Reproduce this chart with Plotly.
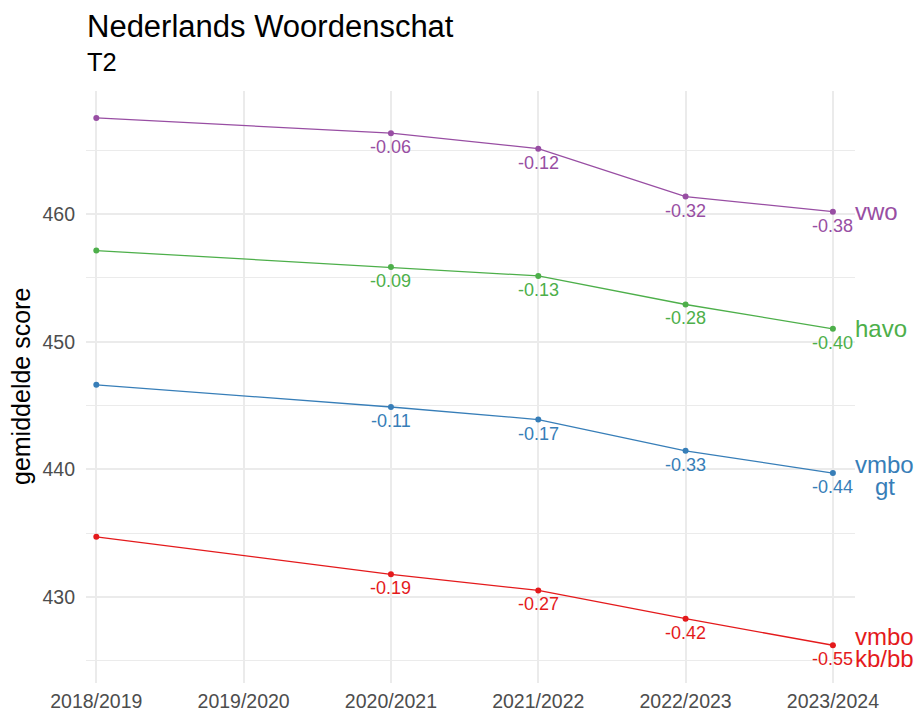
import plotly.graph_objects as go

# schooljaren en gemiddelde scores per schooltype
jaren = ['2018/2019', '2019/2020', '2020/2021', '2021/2022', '2022/2023', '2023/2024']
meetjaren = ['2018/2019', '2020/2021', '2021/2022', '2022/2023', '2023/2024']

niveaus = ['vwo', 'havo', 'vmbo gt', 'vmbo kb/bb']
eind_labels = [['vwo'], ['havo'], ['vmbo', 'gt'], ['vmbo', 'kb/bb']]
kleuren = ['#984EA3', '#4DAF4A', '#377EB8', '#E41A1C']

score_vwo = [467.55, 466.35, 465.14, 461.38, 460.2]
score_havo = [457.15, 455.85, 455.16, 452.92, 451.01]
score_gt = [446.62, 444.88, 443.9, 441.45, 439.7]
score_kb = [434.7, 431.76, 430.5, 428.28, 426.2]

# effectgrootte t.o.v. 2018/2019
effect_vwo = ['', '-0.06', '-0.12', '-0.32', '-0.38']
effect_havo = ['', '-0.09', '-0.13', '-0.28', '-0.40']
effect_gt = ['', '-0.11', '-0.17', '-0.33', '-0.44']
effect_kb = ['', '-0.19', '-0.27', '-0.42', '-0.55']

scores = [score_vwo, score_havo, score_gt, score_kb]
effecten = [effect_vwo, effect_havo, effect_gt, effect_kb]

FONT = 'Liberation Sans, Arial, sans-serif'

fig = go.Figure()

for naam, kleur, y, eff in zip(niveaus, kleuren, scores, effecten):
    fig.add_trace(go.Scatter(
        x=meetjaren, y=y, mode='lines+markers', name=naam,
        line=dict(color=kleur, width=1.3),
        marker=dict(color=kleur, size=6),
        showlegend=False,
    ))
    for xj, yv, t in zip(meetjaren, y, eff):
        if t:
            fig.add_annotation(
                x=xj, y=yv, text=t, showarrow=False,
                xanchor='center', yanchor='top', yshift=-2,
                font=dict(family=FONT, size=18, color=kleur),
            )

# labels rechts van de lijnen (tweeregelige labels met krappe regelafstand)
for regels, kleur, y in zip(eind_labels, kleuren, scores):
    if len(regels) == 1:
        fig.add_annotation(
            x=meetjaren[-1], y=y[-1], text=regels[0], showarrow=False,
            xanchor='left', yanchor='middle', xshift=20,
            font=dict(family=FONT, size=24, color=kleur),
        )
    else:
        for i, regel in enumerate(regels):
            fig.add_annotation(
                x=meetjaren[-1], y=y[-1], text=regel, showarrow=False,
                xanchor='center', yanchor='middle', xshift=52,
                yshift=8.5 - 21.5 * i,
                font=dict(family=FONT, size=24, color=kleur),
            )

fig.add_annotation(
    x=0, y=1, xref='paper', yref='paper', xanchor='left', yanchor='bottom',
    text='Nederlands Woordenschat', showarrow=False, yshift=45, xshift=-1,
    font=dict(family=FONT, size=31, color='black'),
)
fig.add_annotation(
    x=0, y=1, xref='paper', yref='paper', xanchor='left', yanchor='bottom',
    text='T2', showarrow=False, yshift=13, xshift=-1,
    font=dict(family=FONT, size=25.5, color='black'),
)
fig.add_annotation(
    x=-0.0845, y=0.5, xref='paper', yref='paper', xanchor='center', yanchor='middle',
    text='gemiddelde score', textangle=-90, showarrow=False,
    font=dict(family=FONT, size=25, color='black'),
)

# de pagina heeft 8px body-marge, dus figuur iets kleiner
grid = '#EBEBEB'
fig.update_layout(
    width=914, height=705,
    margin=dict(l=78, r=67, t=83, b=30, autoexpand=False),
    plot_bgcolor='white', paper_bgcolor='white',
    font=dict(family=FONT),
    xaxis=dict(
        type='category', categoryorder='array', categoryarray=jaren,
        tickvals=jaren, range=[-0.07, 5.15], automargin=False,
        showgrid=True, gridcolor=grid, gridwidth=1.6,
        zeroline=False, showline=False, ticks='',
        tickfont=dict(family=FONT, size=19.5, color='#4D4D4D'),
        ticklabelstandoff=4,
    ),
    yaxis=dict(
        range=[423.24, 469.66], tickvals=[430, 440, 450, 460], automargin=False,
        showgrid=True, gridcolor=grid, gridwidth=1.6,
        minor=dict(tickvals=[425, 435, 445, 455, 465], showgrid=True,
                   gridcolor=grid, gridwidth=0.8),
        zeroline=False, showline=False, ticks='',
        tickfont=dict(family=FONT, size=19.5, color='#4D4D4D'),
        ticklabelstandoff=10,
    ),
)

fig.write_html('out.html')
